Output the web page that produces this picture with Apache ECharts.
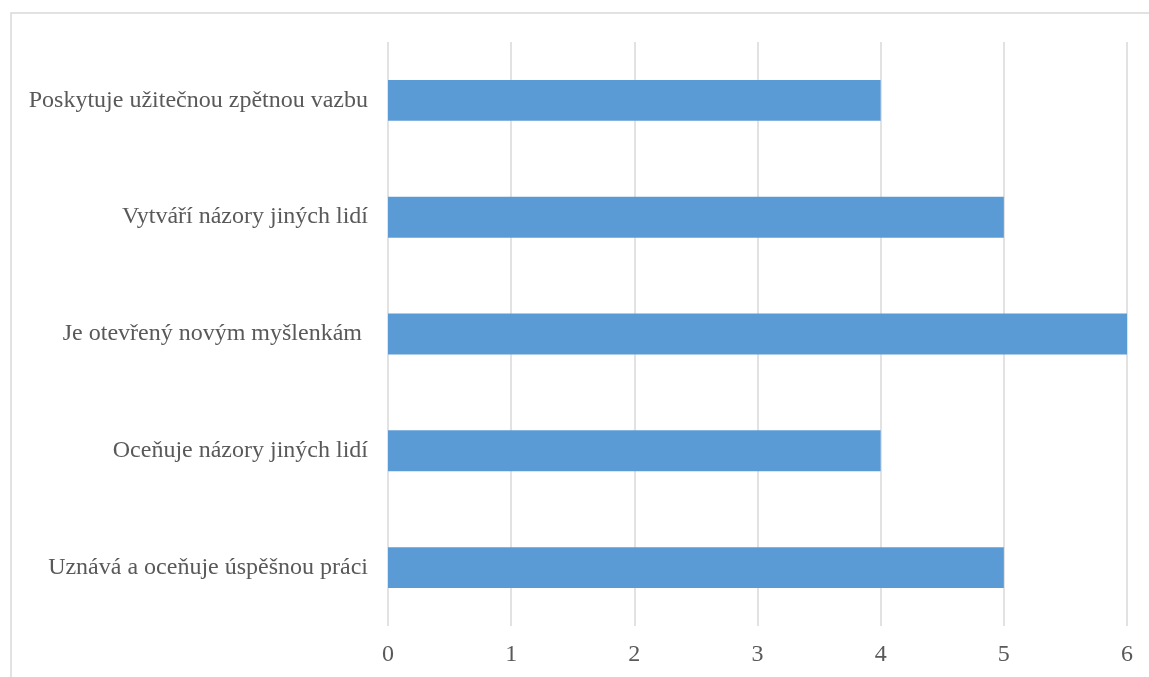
<!DOCTYPE html>
<html>
<head>
<meta charset="utf-8">
<script src="https://cdn.jsdelivr.net/npm/echarts@6/dist/echarts.min.js"></script>
<style>
  html, body { margin: 0; padding: 0; background: #fff; }
  #chart { width: 1149px; height: 677px; }
</style>
</head>
<body>
<div id="chart"></div>
<script>
// data, bottom to top as in the category axis
var categories = [
    'Uznává a oceňuje úspěšnou práci',
    'Oceňuje názory jiných lidí',
    'Je otevřený novým myšlenkám ',
    'Vytváří názory jiných lidí',
    'Poskytuje užitečnou zpětnou vazbu'
];
var values = [5, 4, 6, 5, 4];
var xTicks = [0, 1, 2, 3, 4, 5, 6];

var chart = echarts.init(document.getElementById('chart'));
var option = {
    animation: false,
    textStyle: { fontFamily: 'Liberation Serif, Times New Roman, serif' },
    graphic: [{
        type: 'rect',
        shape: { x: 11, y: 13, width: 1200, height: 720 },
        style: { fill: 'none', stroke: '#d9d9d9', lineWidth: 1.5 },
        silent: true
    }],
    grid: { left: 388, right: 22, top: 42, bottom: 51 },
    xAxis: {
        type: 'value',
        min: xTicks[0],
        max: xTicks[xTicks.length - 1],
        interval: 1,
        axisLine: { show: false },
        axisTick: { show: false },
        splitLine: { lineStyle: { color: '#d9d9d9', width: 1.5 } },
        axisLabel: { color: '#595959', fontSize: 24, margin: 17 }
    },
    yAxis: {
        type: 'category',
        data: categories,
        axisLine: { show: false },
        axisTick: { show: false },
        axisLabel: { color: '#595959', fontSize: 24, margin: 20 }
    },
    series: [{
        type: 'bar',
        data: values,
        barCategoryGap: '65%',
        itemStyle: { color: '#5b9bd5' }
    }]
};
chart.setOption(option);
window.onresize = function () {
    chart.resize()
}
</script>
</body>
</html>
